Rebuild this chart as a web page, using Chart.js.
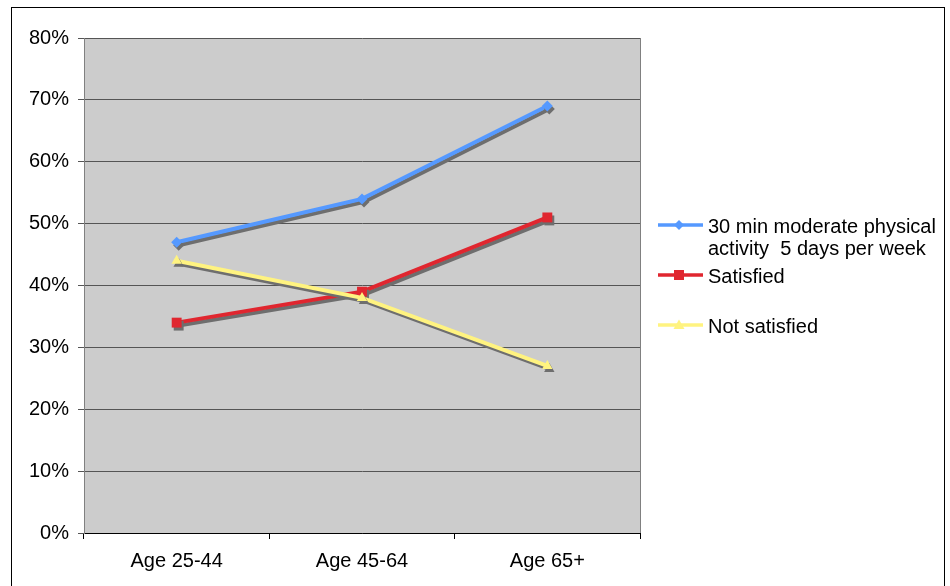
<!DOCTYPE html>
<html><head><meta charset="utf-8">
<script src="https://cdn.jsdelivr.net/npm/chart.js@4/dist/chart.umd.min.js"></script>
<style>
html,body{margin:0;padding:0;background:#fff;}
#wrap{position:relative;width:950px;height:586px;overflow:hidden;}
#frame{position:absolute;left:11px;top:7px;width:934px;height:600px;border:1px solid #000;box-sizing:border-box;}
#c{position:absolute;left:0;top:0;}
#legend{position:absolute;left:656px;top:212px;font-family:"Liberation Sans",Arial,sans-serif;font-size:20px;color:#000;}
.item{position:relative;height:50px;}
.item svg{position:absolute;left:0;top:4px;}
.item span{position:absolute;left:52px;top:3px;line-height:22px;white-space:pre;}
</style></head>
<body><div id="wrap"><div id="frame"></div><canvas id="c" width="950" height="586"></canvas><div id="legend"></div></div>
<script>
const categories = ["Age 25-44", "Age 45-64", "Age 65+"];
const activity = [47, 54, 69];
const satisfied = [34, 39, 51];
const notSatisfied = [44, 38, 27];
const seriesNames = [["30 min moderate physical", "activity  5 days per week"], "Satisfied", "Not satisfied"];
const seriesColors = ["#5599FF", "#E0262F", "#FFF380"];
const pointStyles = ["rectRot", "rect", "triangle"];

const shadowPlugin = {
  id: 'shadow',
  beforeDatasetsDraw(chart) {
    const ctx = chart.ctx;
    ctx.save();
    ctx.shadowColor = 'rgba(110,110,110,1)';
    ctx.shadowOffsetX = 2;
    ctx.shadowOffsetY = 3;
    ctx.shadowBlur = 0;
  },
  afterDatasetsDraw(chart) { chart.ctx.restore(); }
};
const bgPlugin = {
  id: 'bg',
  beforeDraw(chart) {
    const {ctx, chartArea:a} = chart;
    ctx.save();
    ctx.fillStyle = '#CCCCCC';
    ctx.fillRect(a.left, a.top, a.right - a.left, a.bottom - a.top);
    ctx.strokeStyle = '#808080';
    ctx.lineWidth = 1;
    ctx.beginPath();
    ctx.moveTo(Math.round(a.right) + 0.5, a.top);
    ctx.lineTo(Math.round(a.right) + 0.5, a.bottom);
    ctx.stroke();
    ctx.restore();
  }
};

const data = [activity, satisfied, notSatisfied];
const datasets = data.map((d, i) => ({
  label: Array.isArray(seriesNames[i]) ? seriesNames[i].join(' ') : seriesNames[i],
  data: d,
  borderColor: seriesColors[i],
  backgroundColor: seriesColors[i],
  pointStyle: pointStyles[i],
  pointRadius: [5.5, 7, 6][i],
  pointHoverRadius: [5.5, 7, 6][i],
  borderWidth: 4,
  pointBorderWidth: 0,
  tension: 0,
  order: 3 - i
}));

Chart.defaults.font.family = '"Liberation Sans", Arial, sans-serif';
Chart.defaults.font.size = 20;
Chart.defaults.color = '#000';

new Chart(document.getElementById('c'), {
  type: 'line',
  data: { labels: categories, datasets },
  options: {
    responsive: false,
    animation: false,
    events: [],
    layout: { padding: { left: 20, top: 38, right: 310, bottom: 0 } },
    plugins: { legend: { display: false }, tooltip: { enabled: false } },
    scales: {
      x: {
        offset: true,
        grid: { drawOnChartArea: false, color: '#000', tickLength: 6, offset: true },
        border: { color: '#000', width: 1 },
        ticks: { padding: 10, color: '#000' },
        afterFit(s) { s.height = 53; }
      },
      y: {
        min: 0, max: 80,
        ticks: { stepSize: 10, padding: 9, callback: v => v + '%', color: '#000' },
        grid: { color: '#555555', tickLength: 6, lineWidth: 1 },
        border: { color: '#808080', width: 1 },
        afterFit(s) { s.width = 64; }
      }
    }
  },
  plugins: [bgPlugin, shadowPlugin]
});

const legend = document.getElementById('legend');
seriesNames.forEach((n, i) => {
  const div = document.createElement('div');
  div.className = 'item';
  let marker = '';
  const c = seriesColors[i];
  if (i === 0) marker = `<polygon points="23,4 28,9 23,14 18,9" fill="${c}"/>`;
  else if (i === 1) marker = `<rect x="18" y="4" width="10" height="10" fill="${c}"/>`;
  else marker = `<polygon points="23,3.5 28.5,13 17.5,13" fill="${c}"/>`;
  div.innerHTML = `<svg width="48" height="18"><line x1="2" y1="9" x2="47" y2="9" stroke="${c}" stroke-width="3.5"/>${marker}</svg><span>${Array.isArray(n) ? n.join('\n') : n}</span>`;
  legend.appendChild(div);
});
</script></body></html>
